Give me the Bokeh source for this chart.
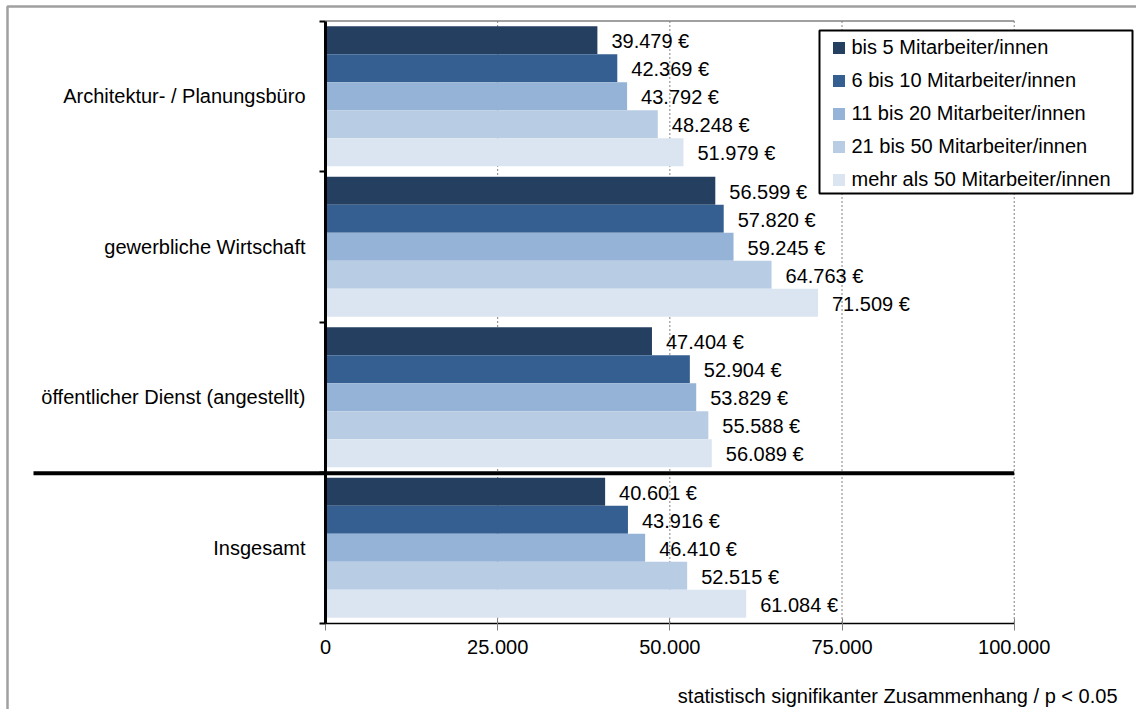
from bokeh.plotting import figure
from bokeh.models import (ColumnDataSource, Range1d, FixedTicker, Legend, LegendItem,
                          BoxAnnotation, Label)
from bokeh.embed import file_html
from bokeh.resources import INLINE
from bokeh.core.properties import value

FONT = "Liberation Sans"

categories = ["Architektur- / Planungsbüro", "gewerbliche Wirtschaft",
              "öffentlicher Dienst (angestellt)", "Insgesamt"]
series = ["bis 5 Mitarbeiter/innen", "6 bis 10 Mitarbeiter/innen",
          "11 bis 20 Mitarbeiter/innen", "21 bis 50 Mitarbeiter/innen",
          "mehr als 50 Mitarbeiter/innen"]
colors = ["#243F60", "#365F91", "#95B3D7", "#B8CCE4", "#DBE5F1"]

v_bis5 = [39479, 56599, 47404, 40601]
v_6_10 = [42369, 57820, 52904, 43916]
v_11_20 = [43792, 59245, 53829, 46410]
v_21_50 = [48248, 64763, 55588, 52515]
v_50plus = [51979, 71509, 56089, 61084]
values = [v_bis5, v_6_10, v_11_20, v_21_50, v_50plus]

x_ticks = [0, 25000, 50000, 75000, 100000]
x_tick_labels = ["0", "25.000", "50.000", "75.000", "100.000"]
note = "statistisch signifikanter Zusammenhang / p < 0.05"

# ---- layout constants (canvas pixels) ----
W, H = 1136, 709
X_MIN, X_MAX = 0, 100000
X0_PX, X1_PX = 325.0, 1013.7          # pixel of X_MIN and X_MAX
Y_TOP_PX, Y_BOT_PX = 20.5, 622.5       # top / bottom of the category area
n_cat = len(categories)
ppx = (X1_PX - X0_PX) / (X_MAX - X_MIN)
ppy = (Y_BOT_PX - Y_TOP_PX) / n_cat


def px_to_x(px):
    return (px - X0_PX) / ppx


def py_to_y(py):
    return (Y_BOT_PX - py) / ppy


centers = [n_cat - 0.5 - i for i in range(n_cat)]
BAR_H = 0.186


def de_fmt(v):
    return f"{v:,}".replace(",", ".") + " €"


p = figure(width=W, height=H, output_backend="svg", toolbar_location=None,
           x_range=Range1d(px_to_x(0), px_to_x(W)),
           y_range=Range1d(py_to_y(H), py_to_y(0)),
           min_border_left=0, min_border_right=0, min_border_top=0,
           min_border_bottom=0, background_fill_color="white",
           border_fill_color="white")
p.outline_line_color = None
p.xgrid.visible = False
p.ygrid.visible = False

# outer gray frame
p.add_layout(BoxAnnotation(left=7, right=W + 20, top=6, bottom=H + 20,
                           left_units="canvas", right_units="canvas",
                           top_units="canvas", bottom_units="canvas",
                           fill_alpha=0, line_color="#a0a0a0", line_alpha=1,
                           line_width=2.5))

# dashed vertical grid lines within the category area
grid_ticks = x_ticks[1:]
p.segment(x0=grid_ticks, y0=[0] * len(grid_ticks), x1=grid_ticks,
          y1=[n_cat] * len(grid_ticks), line_color="#808080", line_width=1,
          line_dash="2 2")
# top border of the plot area
p.segment(x0=[X_MIN], y0=[n_cat], x1=[X_MAX], y1=[n_cat],
          line_color="#808080", line_width=1.5)

renderers = []
for j, (name, col, vals) in enumerate(zip(series, colors, values)):
    ys = [c + (2 - j) * BAR_H for c in centers]
    src = ColumnDataSource(dict(y=ys, v=vals, lbl=[de_fmt(v) for v in vals]))
    r = p.hbar(y="y", left=0, right="v", height=BAR_H, source=src,
               fill_color=col, line_color=None)
    renderers.append(r)
    p.text(x="v", y="y", text="lbl", source=src, x_offset=14, y_offset=1,
           text_align="left", text_baseline="middle", text_color="black",
           text_font=value(FONT), text_font_size="20px")

# separator before "Insgesamt"
p.add_layout(BoxAnnotation(left=33, left_units="canvas", right=X_MAX,
                           top=1.008, bottom=0.982, fill_color="black", fill_alpha=1,
                           line_color=None))

# axes
xa = p.xaxis[0]
xa.fixed_location = 0
xa.bounds = (X_MIN, X_MAX)
xa.ticker = FixedTicker(ticks=x_ticks, minor_ticks=[])
xa.major_label_overrides = {t: l for t, l in zip(x_ticks, x_tick_labels)}
xa.axis_line_color = "black"
xa.axis_line_width = 1.5
xa.major_tick_in = 5
xa.major_tick_out = 7
xa.major_tick_line_color = "#808080"
xa.major_label_standoff = 10
xa.major_label_text_font = FONT
xa.major_label_text_font_size = "20px"
xa.major_label_text_color = "black"

ya = p.yaxis[0]
ya.fixed_location = 0
ya.bounds = (0, n_cat)
ya.ticker = FixedTicker(ticks=centers, minor_ticks=list(range(n_cat + 1)))
ya.major_label_overrides = {c: n for c, n in zip(centers, categories)}
ya.axis_line_color = "black"
ya.axis_line_width = 3
ya.major_tick_in = 0
ya.major_tick_out = 0
ya.minor_tick_in = 0
ya.minor_tick_out = 6
ya.minor_tick_line_color = "black"
ya.minor_tick_line_width = 2
ya.major_label_standoff = 14
ya.major_label_text_font = FONT
ya.major_label_text_font_size = "20px"
ya.major_label_text_color = "black"

# legend box
p.add_layout(BoxAnnotation(left=819, right=1132, top=30, bottom=193,
                           left_units="canvas", right_units="canvas",
                           top_units="canvas", bottom_units="canvas",
                           fill_color="white", fill_alpha=1,
                           line_color="black", line_alpha=1, line_width=2))

legend = Legend(items=[LegendItem(label=s, renderers=[r]) for s, r in zip(series, renderers)],
                location=(830.5, H - 193.5 + 3), orientation="vertical", padding=4,
                spacing=10, glyph_width=15, glyph_height=15, label_standoff=6,
                label_height=23, label_text_font=FONT, label_text_font_size="20px",
                label_text_color="black", border_line_color=None,
                background_fill_alpha=0, margin=0)
p.add_layout(legend)

p.add_layout(Label(x=px_to_x(1117), y=py_to_y(695), text=note,
                   text_align="right", text_baseline="middle", text_font=FONT,
                   text_font_size="20px", text_color="black"))

open("out.html", "w").write(file_html(p, INLINE))
